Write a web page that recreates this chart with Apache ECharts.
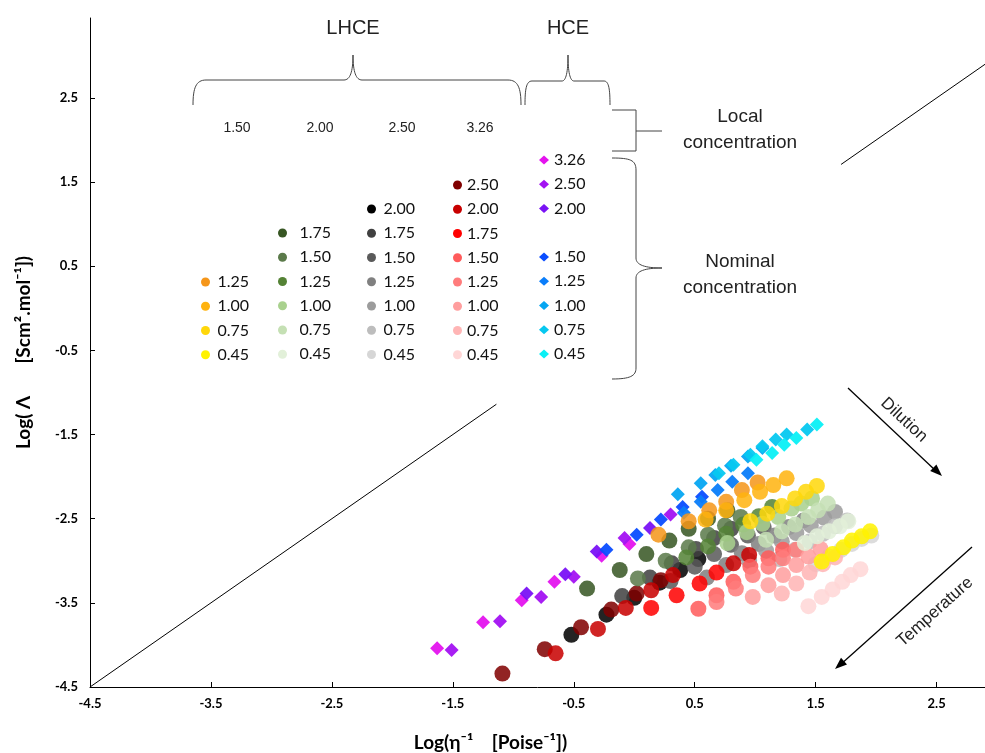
<!DOCTYPE html>
<html>
<head>
<meta charset="utf-8">
<script src="https://cdn.jsdelivr.net/npm/echarts/dist/echarts.min.js"></script>
<style>
html, body { margin: 0; padding: 0; background: #fff; }
#walden { width: 985px; height: 753px; }
</style>
</head>
<body>
<div id="walden"></div>
<script>
// ideal Walden line (y = x), hidden behind the key
var idealLow = [[-4.5, -4.5], [-1.14, -1.14]];
var idealHigh = [[1.71, 1.71], [2.9, 2.9]];

// tick labels
var xTicks = [-4.5, -3.5, -2.5, -1.5, -0.5, 0.5, 1.5, 2.5];
var yTicks = [-4.5, -3.5, -2.5, -1.5, -0.5, 0.5, 1.5, 2.5];

// LHCE, local concentration 1.50
var l150_125 = [[0.20,-2.69],[0.45,-2.53],[0.62,-2.40],[0.76,-2.30],[0.89,-2.16],[1.02,-2.07]];
var l150_100 = [[0.59,-2.51],[0.76,-2.40],[0.91,-2.28],[1.04,-2.18],[1.15,-2.10],[1.26,-2.02]];
var l150_075 = [[0.96,-2.53],[1.10,-2.44],[1.22,-2.35],[1.33,-2.26],[1.42,-2.18],[1.51,-2.11]];
var l150_045 = [[1.55,-3.01],[1.64,-2.92],[1.73,-2.84],[1.80,-2.76],[1.88,-2.71],[1.95,-2.65]];

// LHCE, local concentration 2.00
var l200_175 = [[-0.39,-3.33],[-0.12,-3.11],[0.10,-2.92],[0.29,-2.76],[0.45,-2.62],[0.61,-2.50],[0.77,-2.40]];
var l200_150 = [[0.03,-3.21],[0.26,-3.00],[0.45,-2.84],[0.61,-2.69],[0.75,-2.58],[0.88,-2.48]];
var l200_125 = [[0.43,-2.96],[0.61,-2.83],[0.76,-2.68],[0.90,-2.57],[1.03,-2.47],[1.14,-2.36]];
var l200_100 = [[0.77,-2.79],[0.93,-2.66],[1.06,-2.56],[1.19,-2.48],[1.30,-2.38],[1.38,-2.32],[1.47,-2.26]];
var l200_075 = [[1.09,-2.75],[1.22,-2.65],[1.33,-2.57],[1.44,-2.48],[1.52,-2.40],[1.60,-2.32]];
var l200_045 = [[1.41,-2.79],[1.51,-2.71],[1.61,-2.65],[1.70,-2.59],[1.77,-2.53]];

// LHCE, local concentration 2.50
var l250_200 = [[-0.52,-3.88],[-0.23,-3.64],[0.00,-3.44],[0.21,-3.26],[0.38,-3.11],[0.53,-2.98]];
var l250_175 = [[-0.10,-3.42],[0.13,-3.20],[0.31,-3.03],[0.51,-2.86],[0.66,-2.73],[0.80,-2.62]];
var l250_150 = [[0.30,-3.24],[0.50,-3.07],[0.66,-2.92],[0.80,-2.81],[0.94,-2.70],[1.07,-2.60]];
var l250_125 = [[0.60,-3.20],[0.76,-3.05],[0.89,-2.91],[1.03,-2.80],[1.16,-2.70],[1.28,-2.60],[1.40,-2.52]];
var l250_100 = [[0.95,-3.00],[1.09,-2.88],[1.22,-2.77],[1.34,-2.67],[1.46,-2.58],[1.57,-2.49],[1.66,-2.42]];
var l250_075 = [[1.20,-2.98],[1.33,-2.87],[1.45,-2.77],[1.56,-2.68],[1.66,-2.59],[1.76,-2.52]];
var l250_045 = [[1.50,-3.04],[1.61,-2.95],[1.71,-2.87],[1.80,-2.80],[1.88,-2.74],[1.96,-2.70]];

// LHCE, local concentration 3.26
var l326_250 = [[-1.09,-4.34],[-0.74,-4.05],[-0.44,-3.79],[-0.19,-3.58],[0.02,-3.39],[0.22,-3.23]];
var l326_200 = [[-0.65,-4.10],[-0.30,-3.81],[-0.07,-3.56],[0.14,-3.35],[0.32,-3.17],[0.82,-3.03],[0.95,-2.93]];
var l326_175 = [[0.14,-3.56],[0.35,-3.41],[0.54,-3.27],[0.68,-3.14]];
var l326_150 = [[0.53,-3.57],[0.68,-3.41],[0.82,-3.25],[0.96,-3.07],[1.11,-2.97],[1.23,-2.87]];
var l326_125 = [[0.68,-3.49],[0.84,-3.33],[0.98,-3.17],[1.11,-3.07],[1.23,-2.97],[1.34,-2.87]];
var l326_100 = [[0.98,-3.43],[1.11,-3.29],[1.23,-3.17],[1.34,-3.05],[1.44,-2.95],[1.54,-2.86]];
var l326_075 = [[1.22,-3.39],[1.34,-3.27],[1.45,-3.14],[1.56,-3.04],[1.66,-2.96]];
var l326_045 = [[1.44,-3.54],[1.55,-3.43],[1.64,-3.34],[1.72,-3.25],[1.79,-3.17],[1.87,-3.10]];

// HCE
var h326 = [[-1.63,-4.04],[-1.25,-3.73],[-0.93,-3.47],[-0.66,-3.25],[-0.27,-2.94],[-0.04,-2.80]];
var h250 = [[-1.51,-4.06],[-1.11,-3.72],[-0.77,-3.43],[-0.50,-3.19],[-0.08,-2.73],[0.30,-2.45]];
var h200 = [[-0.89,-3.39],[-0.57,-3.16],[-0.31,-2.89],[0.13,-2.61]];
var h150 = [[-0.23,-2.87],[0.02,-2.69],[0.22,-2.51],[0.40,-2.36],[0.56,-2.24]];
var h125 = [[0.41,-2.43],[0.55,-2.30],[0.69,-2.16],[0.81,-2.06],[0.94,-1.96]];
var h100 = [[0.36,-2.21],[0.55,-2.08],[0.67,-1.98],[0.80,-1.87],[0.94,-1.76],[1.06,-1.66]];
var h075 = [[0.70,-1.96],[0.82,-1.86],[0.96,-1.74],[1.06,-1.64],[1.17,-1.56],[1.26,-1.50],[1.43,-1.44]];
var h045 = [[1.01,-1.80],[1.14,-1.72],[1.24,-1.62],[1.34,-1.54],[1.51,-1.38]];

// key column headers (local concentration)
var localHeads = ['1.50', '2.00', '2.50', '3.26'];

// [name, data, colour, symbol]  drawn in this order
var seriesSpec = [
    ['HCE / 3.26', h326, '#E414EE', 'diamond'],
    ['HCE / 2.50', h250, '#A312F2', 'diamond'],
    ['HCE / 2.00', h200, '#7A12F5', 'diamond'],
    ['HCE / 1.50', h150, '#0A4DFF', 'diamond'],
    ['HCE / 1.25', h125, '#0A7DFA', 'diamond'],
    ['HCE / 1.00', h100, '#06A6F2', 'diamond'],
    ['HCE / 0.75', h075, '#06C8F0', 'diamond'],
    ['HCE / 0.45', h045, '#0AF0F5', 'diamond'],
    ['LHCE 2.50 / 2.00', l250_200, '#000000', 'circle'],
    ['LHCE 2.50 / 1.75', l250_175, '#404040', 'circle'],
    ['LHCE 2.50 / 1.50', l250_150, '#5A5A5A', 'circle'],
    ['LHCE 2.50 / 1.25', l250_125, '#808080', 'circle'],
    ['LHCE 2.50 / 1.00', l250_100, '#9C9C9C', 'circle'],
    ['LHCE 2.50 / 0.75', l250_075, '#BDBDBD', 'circle'],
    ['LHCE 2.50 / 0.45', l250_045, '#D6D6D6', 'circle'],
    ['LHCE 3.26 / 2.50', l326_250, '#800000', 'circle'],
    ['LHCE 3.26 / 2.00', l326_200, '#C80000', 'circle'],
    ['LHCE 3.26 / 1.75', l326_175, '#FF0000', 'circle'],
    ['LHCE 3.26 / 1.50', l326_150, '#FF5B5B', 'circle'],
    ['LHCE 3.26 / 1.25', l326_125, '#FF7C7C', 'circle'],
    ['LHCE 3.26 / 1.00', l326_100, '#FF9E9E', 'circle'],
    ['LHCE 3.26 / 0.75', l326_075, '#FFB5B5', 'circle'],
    ['LHCE 3.26 / 0.45', l326_045, '#FFD6D6', 'circle'],
    ['LHCE 2.00 / 1.75', l200_175, '#375623', 'circle'],
    ['LHCE 2.00 / 1.50', l200_150, '#5B7A4A', 'circle'],
    ['LHCE 2.00 / 1.25', l200_125, '#548235', 'circle'],
    ['LHCE 2.00 / 1.00', l200_100, '#A9D18E', 'circle'],
    ['LHCE 2.00 / 0.75', l200_075, '#C5E0B4', 'circle'],
    ['LHCE 2.00 / 0.45', l200_045, '#E2F0D9', 'circle'],
    ['LHCE 1.50 / 1.25', l150_125, '#F5961A', 'circle'],
    ['LHCE 1.50 / 1.00', l150_100, '#FFB30F', 'circle'],
    ['LHCE 1.50 / 0.75', l150_075, '#FFD70A', 'circle'],
    ['LHCE 1.50 / 0.45', l150_045, '#FFF200', 'circle']
];

function namesOf(prefix) {
    return seriesSpec.filter(function (s) { return s[0].indexOf(prefix + ' / ') === 0; })
        .map(function (s) { return s[0]; });
}

var series = [
    { type: 'line', data: idealLow, showSymbol: false, silent: true,
      lineStyle: { color: '#000', width: 1 }, z: 1 },
    { type: 'line', data: idealHigh, showSymbol: false, silent: true,
      lineStyle: { color: '#000', width: 1 }, z: 1 }
];
seriesSpec.forEach(function (s) {
    var diamond = s[3] === 'diamond';
    series.push({
        name: s[0],
        type: 'scatter',
        data: s[1],
        symbol: s[3],
        symbolSize: diamond ? 14 : 16,
        itemStyle: { color: s[2], opacity: diamond ? 0.95 : 0.86 },
        z: 2
    });
});

function keyColumn(names, left, top, w, h) {
    return {
        data: names,
        orient: 'vertical',
        left: left,
        top: top,
        padding: 0,
        itemGap: 8.25,
        itemWidth: w,
        itemHeight: h,
        selectedMode: false,
        itemStyle: { opacity: 1 },
        formatter: function (n) { return n.split(' / ')[1]; },
        textStyle: { fontFamily: 'Lato', fontSize: 16, color: '#111', lineHeight: 16 }
    };
}

var hceNames = namesOf('HCE');
var legends = [
    keyColumn(namesOf('LHCE 1.50'), 201, 274, 14, 9),
    keyColumn(namesOf('LHCE 2.00'), 278, 225, 24, 9),
    keyColumn(namesOf('LHCE 2.50'), 367, 201, 14, 9),
    keyColumn(namesOf('LHCE 3.26'), 453, 177, 9, 9),
    keyColumn(hceNames.slice(0, 3), 539, 152, 10, 9),
    keyColumn(hceNames.slice(3), 539, 249, 10, 9)
];

var txt = function (t, x, y, size, rot) {
    return { type: 'text', x: x, y: y, rotation: rot || 0, silent: true,
             style: { text: t, font: size + 'px "Liberation Sans", Arial, sans-serif', fill: '#222',
                      textAlign: 'center', textVerticalAlign: 'middle' } };
};
var pen = { stroke: '#444', lineWidth: 1, fill: null };

// braces: 4 numbers = straight piece, 8 numbers = cubic piece (start, c1, c2, end)
function brace(parts) {
    return parts.map(function (p) {
        if (p.length === 4) {
            return { type: 'line', silent: true, style: pen,
                     shape: { x1: p[0], y1: p[1], x2: p[2], y2: p[3] } };
        }
        return { type: 'bezierCurve', silent: true, style: pen,
                 shape: { x1: p[0], y1: p[1], cpx1: p[2], cpy1: p[3], cpx2: p[4], cpy2: p[5], x2: p[6], y2: p[7] } };
    });
}

var graphics = [
    txt('LHCE', 353, 28, 20), txt('HCE', 568, 28, 20),
    txt('Local', 740, 117, 19), txt('concentration', 740, 143, 19),
    txt('Nominal', 740, 262, 19), txt('concentration', 740, 288, 19),
    { type: 'line', silent: true, shape: { x1: 848, y1: 388, x2: 936, y2: 471 },
      style: { stroke: '#000', lineWidth: 1.3 } },
    { type: 'polygon', silent: true, shape: { points: [[942, 476], [930.2, 471.1], [936.4, 464.5]] },
      style: { fill: '#000' } },
    txt('Dilution', 904, 420, 17, -0.75),
    { type: 'line', silent: true, shape: { x1: 972, y1: 547, x2: 840, y2: 665 },
      style: { stroke: '#000', lineWidth: 1.3 } },
    { type: 'polygon', silent: true, shape: { points: [[835, 669], [847, 664.4], [841, 657.7]] },
      style: { fill: '#000' } },
    txt('Temperature', 935, 612, 17, 0.73)
].concat(
    brace([[193,105, 193,88, 196,80, 206,80], [206,80, 344,80], [344,80, 350,80, 353,72, 353,55],
           [353,55, 353,72, 356,80, 362,80], [362,80, 508,80], [508,80, 518,80, 521,88, 521,105]]),
    brace([[525,105, 525,90, 526,81, 532,81], [532,81, 562,81], [562,81, 566,81, 568,72, 568,55],
           [568,55, 568,72, 570,81, 574,81], [574,81, 604,81], [604,81, 609,81, 610,90, 610,105]]),
    brace([[612,110, 636,110], [636,110, 636,151], [636,151, 612,151], [636,131, 662,131]]),
    brace([[612,158, 630,158, 636,160, 636,170], [636,170, 636,258], [636,258, 636,265, 645,268, 662,268],
           [662,268, 645,268, 636,271, 636,278], [636,278, 636,368], [636,368, 636,376, 630,379, 612,379]])
);
localHeads.forEach(function (h, i) {
    graphics.push(txt(h, [237, 320, 402, 480][i], 128, 14));
});

var tickLabel = { fontFamily: 'Lato', fontWeight: 'bold', fontSize: 13, color: '#000' };

var option = {
    animation: false,
    backgroundColor: '#fff',
    grid: { left: 90, right: 0, top: 18, bottom: 66, outerBoundsMode: 'none' },
    xAxis: {
        type: 'value', min: -4.5, max: 2.9, interval: 1,
        name: 'Log(η⁻¹    [Poise⁻¹])', nameLocation: 'middle', nameGap: 46,
        nameTextStyle: { fontFamily: 'Lato', fontWeight: 'bold', fontSize: 19, color: '#000',
                         padding: [0, 94, 0, 0] },
        axisLine: { onZero: false, lineStyle: { color: '#000', width: 1 } },
        axisTick: { inside: true, length: 5, lineStyle: { color: '#000' } },
        axisLabel: Object.assign({ margin: 10, showMaxLabel: false,
            formatter: function (v) { return xTicks.indexOf(v) >= 0 ? String(v) : ''; } }, tickLabel),
        splitLine: { show: false }
    },
    yAxis: {
        type: 'value', min: -4.5, max: 3.45, interval: 1,
        name: 'Log( Λ       [Scm².mol⁻¹])', nameLocation: 'middle', nameGap: 57,
        nameTextStyle: { fontFamily: 'Lato', fontWeight: 'bold', fontSize: 19, color: '#000' },
        axisLine: { onZero: false, lineStyle: { color: '#000', width: 1 } },
        axisTick: { inside: true, length: 5, lineStyle: { color: '#000' } },
        axisLabel: Object.assign({ margin: 12, showMaxLabel: false,
            formatter: function (v) { return yTicks.indexOf(v) >= 0 ? String(v) : ''; } }, tickLabel),
        splitLine: { show: false }
    },
    legend: legends,
    graphic: graphics,
    series: series
};

var chart = echarts.init(document.getElementById('walden'));
chart.setOption(option);
</script>
</body>
</html>
